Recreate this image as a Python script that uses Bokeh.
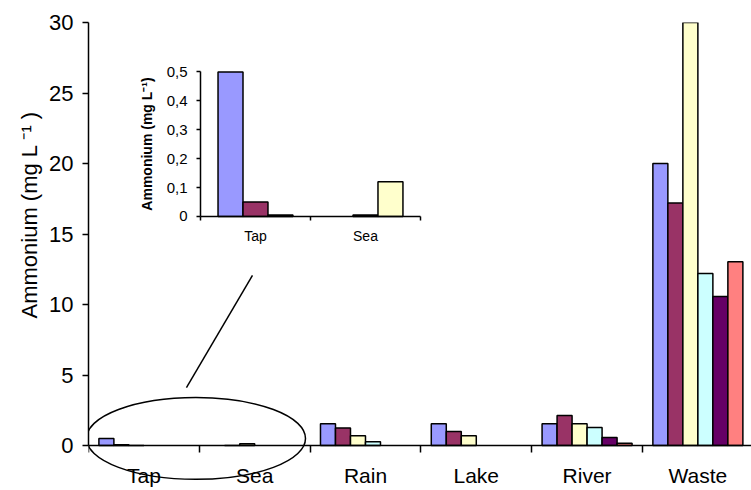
from bokeh.plotting import figure
from bokeh.models import (Range1d, LinearAxis, FixedTicker, ColumnDataSource,
                          CustomJSTickFormatter, Title)
from bokeh.embed import file_html
from bokeh.resources import INLINE

# ---------------- data ----------------
categories = ["Tap", "Sea", "Rain", "Lake", "River", "Waste"]
series_names = ["Series 1", "Series 2", "Series 3", "Series 4", "Series 5", "Series 6"]
series_colors = ["#9999FF", "#993366", "#FFFFCC", "#CCFFFF", "#660066", "#FF8080"]
s1 = [0.50, 0.0, 1.54, 1.54, 1.54, 20.0]
s2 = [0.05, 0.005, 1.25, 0.99, 2.13, 17.2]
s3 = [0.005, 0.12, 0.69, 0.69, 1.54, 30.0]
s4 = [0.0, 0.0, 0.26, 0.0, 1.28, 12.2]
s5 = [0.0, 0.0, 0.0, 0.0, 0.57, 10.57]
s6 = [0.0, 0.0, 0.0, 0.0, 0.16, 13.04]
series_values = [s1, s2, s3, s4, s5, s6]
y_ticks = [0, 5, 10, 15, 20, 25, 30]
y_label = "Ammonium (mg L \u207B\u00B9 )"

inset_categories = ["Tap", "Sea"]
inset_s1 = [0.50, 0.0]
inset_s2 = [0.05, 0.005]
inset_s3 = [0.005, 0.12]
inset_values = [inset_s1, inset_s2, inset_s3]
inset_y_ticks = [0, 0.1, 0.2, 0.3, 0.4, 0.5]
inset_y_label = "Ammonium (mg L\u207B\u00B9)"

# ---------------- layout constants ----------------
FONT = "Liberation Sans"
W, H = 751, 490
X_END = 5.984
Y_START, Y_END = -3.19, 30
IX_START, IX_END = -1.018, 5.009
IY_START, IY_END = -0.948, 0.671
BAR_W = 0.1354
INSET_BAR_W = 0.227

# ellipse & pointer line (annotation marking the inset region)
ell_x, ell_y, ell_w, ell_h = 0.970, 0.50, 1.977, 5.8
pointer_x = [0.884, 1.480]
pointer_y = [4.11, 12.06]

p = figure(width=W, height=H, x_range=Range1d(0, X_END),
           y_range=Range1d(Y_START, Y_END), output_backend="svg",
           toolbar_location=None, x_axis_type=None, y_axis_type=None,
           min_border_left=88, min_border_right=0, min_border_top=22,
           min_border_bottom=0)
p.outline_line_color = None
p.background_fill_color = "white"
p.border_fill_color = "white"
p.xgrid.visible = False
p.ygrid.visible = False
p.extra_x_ranges = {"inset_x": Range1d(IX_START, IX_END)}
p.extra_y_ranges = {"inset_y": Range1d(IY_START, IY_END)}


def plain_axis(ax, tick_out=0, line=True):
    ax.major_tick_out = tick_out
    ax.major_tick_in = 0
    ax.minor_tick_out = 0
    ax.minor_tick_in = 0
    ax.axis_line_width = 1.5
    ax.major_tick_line_width = 1.5
    if not line:
        ax.axis_line_color = None
        ax.major_tick_line_color = None
        ax.minor_tick_line_color = None
    return ax


# ---------------- main bars ----------------
n = len(series_values)
for i, (vals, col, name) in enumerate(zip(series_values, series_colors, series_names)):
    xs, tops = [], []
    for ci, v in enumerate(vals):
        if v > 0:
            xs.append(ci + 0.5 + (i - (n - 1) / 2) * BAR_W)
            tops.append(v)
    src = ColumnDataSource(dict(x=xs, top=tops))
    p.vbar(x="x", top="top", bottom=0, width=BAR_W, source=src,
           fill_color=col, line_color="black", line_width=1.5, name=name)

# ---------------- main axes ----------------
yax = plain_axis(LinearAxis(ticker=FixedTicker(ticks=y_ticks), bounds=(0, 30)), tick_out=6)
yax.major_label_text_font = FONT
yax.major_label_text_font_size = "22px"
yax.major_label_text_color = "black"
yax.major_label_standoff = 9
p.add_layout(yax, "left")

# y-axis title, placed a little above mid-axis as in the original
p.add_layout(Title(text=y_label, align="left", offset=172, vertical_align="middle",
                   text_font=FONT, text_font_size="22px", text_font_style="normal",
                   text_color="black", standoff=8), "left")

xax = plain_axis(LinearAxis(ticker=FixedTicker(ticks=list(range(len(categories) + 1))),
                            fixed_location=0), tick_out=7)
xax.major_label_text_font_size = "0px"
xax.major_label_text_alpha = 0
p.add_layout(xax, "below")

xlab = plain_axis(LinearAxis(ticker=FixedTicker(ticks=[i + 0.5 for i in range(len(categories))]),
                             fixed_location=0,
                             formatter=CustomJSTickFormatter(args=dict(names=categories),
                                                             code="return names[Math.floor(tick)]")),
                  tick_out=6, line=False)
xlab.major_label_text_font = FONT
xlab.major_label_text_font_size = "21px"
xlab.major_label_text_color = "black"
xlab.major_label_standoff = 12
p.add_layout(xlab, "below")

# ---------------- ellipse & pointer ----------------
p.ellipse(x=[ell_x], y=[ell_y], width=ell_w, height=ell_h, fill_color=None,
          line_color="black", line_width=1.5)
p.line(pointer_x, pointer_y, line_color="black", line_width=1.5)

# ---------------- inset ----------------
ni = len(inset_values)
for i, vals in enumerate(inset_values):
    xs, tops = [], []
    for ci, v in enumerate(vals):
        if v > 0:
            xs.append(ci + 0.5 + (i - (ni - 1) / 2) * INSET_BAR_W)
            tops.append(v)
    src = ColumnDataSource(dict(x=xs, top=tops))
    p.vbar(x="x", top="top", bottom=0, width=INSET_BAR_W, source=src,
           fill_color=series_colors[i], line_color="black", line_width=1.5,
           x_range_name="inset_x", y_range_name="inset_y")

iy = plain_axis(LinearAxis(x_range_name="inset_x", y_range_name="inset_y", fixed_location=0,
                           bounds=(0, 0.5), ticker=FixedTicker(ticks=inset_y_ticks),
                           formatter=CustomJSTickFormatter(
                               code="return tick == 0 ? '0' : tick.toFixed(1).replace('.', ',')")),
                tick_out=4)
iy.major_label_text_font = FONT
iy.major_label_text_font_size = "15px"
iy.major_label_text_color = "black"
iy.major_label_standoff = 9
iy.axis_label = inset_y_label
iy.axis_label_text_font = FONT
iy.axis_label_text_font_size = "14px"
iy.axis_label_text_font_style = "bold"
iy.axis_label_text_color = "black"
iy.axis_label_standoff = 9
p.add_layout(iy, "left")

ix = plain_axis(LinearAxis(x_range_name="inset_x", y_range_name="inset_y", fixed_location=0,
                           bounds=(0, len(inset_categories)),
                           ticker=FixedTicker(ticks=list(range(len(inset_categories) + 1)))),
                tick_out=4)
ix.major_label_text_font_size = "0px"
ix.major_label_text_alpha = 0
p.add_layout(ix, "below")

ixl = plain_axis(LinearAxis(x_range_name="inset_x", y_range_name="inset_y", fixed_location=0,
                            ticker=FixedTicker(ticks=[i + 0.5 for i in range(len(inset_categories))]),
                            formatter=CustomJSTickFormatter(args=dict(names=inset_categories),
                                                            code="return names[Math.floor(tick)]")),
                 tick_out=6, line=False)
ixl.major_label_text_font = FONT
ixl.major_label_text_font_size = "14px"
ixl.major_label_text_color = "black"
ixl.major_label_standoff = 6
p.add_layout(ixl, "below")

open("out.html", "w").write(file_html(p, INLINE))
